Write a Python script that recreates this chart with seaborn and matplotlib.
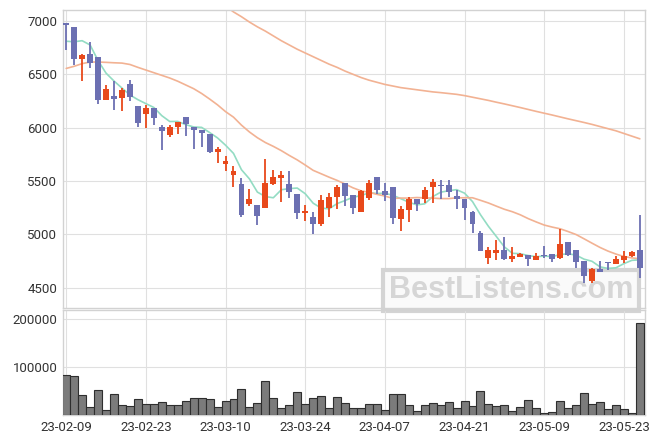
import matplotlib
matplotlib.use("Agg")
import matplotlib.pyplot as plt
import seaborn as sns
import numpy as np
import pandas as pd

# daily candles, 23-02-09 .. 23-05-25
dates = [
    "23-02-09", "23-02-10", "23-02-13", "23-02-14", "23-02-15", "23-02-16", "23-02-17",
    "23-02-20", "23-02-21", "23-02-22", "23-02-23", "23-02-24", "23-02-27", "23-02-28",
    "23-03-02", "23-03-03", "23-03-06", "23-03-07", "23-03-08", "23-03-09", "23-03-10",
    "23-03-13", "23-03-14", "23-03-15", "23-03-16", "23-03-17", "23-03-20", "23-03-21",
    "23-03-22", "23-03-23", "23-03-24", "23-03-27", "23-03-28", "23-03-29", "23-03-30",
    "23-03-31", "23-04-03", "23-04-04", "23-04-05", "23-04-06", "23-04-07", "23-04-10",
    "23-04-11", "23-04-12", "23-04-13", "23-04-14", "23-04-17", "23-04-18", "23-04-19",
    "23-04-20", "23-04-21", "23-04-24", "23-04-25", "23-04-26", "23-04-27", "23-04-28",
    "23-05-02", "23-05-03", "23-05-04", "23-05-08", "23-05-09", "23-05-10", "23-05-11",
    "23-05-12", "23-05-15", "23-05-16", "23-05-17", "23-05-18", "23-05-19", "23-05-22",
    "23-05-23", "23-05-24", "23-05-25",
]
opens = [
    6980, 6940, 6640, 6690, 6660, 6260, 6295, 6275, 6405, 6200,
    6125, 6180, 6010, 5930, 6005, 6100, 6010, 5980, 5940, 5775,
    5660, 5555, 5470, 5285, 5270, 5250, 5475, 5530, 5475, 5375,
    5200, 5165, 5095, 5250, 5345, 5480, 5365, 5210, 5340, 5540,
    5410, 5445, 5140, 5230, 5330, 5330, 5445, 5460, 5465, 5360,
    5330, 5205, 5015, 4780, 4820, 4855, 4765, 4790, 4805, 4760,
    4805, 4815, 4780, 4925, 4855, 4750, 4565, 4670, 4740, 4720,
    4760, 4800, 4855,
]
highs = [
    6980, 6940, 6695, 6800, 6660, 6395, 6435, 6375, 6450, 6200,
    6210, 6180, 6020, 6020, 6050, 6100, 6010, 5980, 5940, 5815,
    5735, 5640, 5525, 5420, 5270, 5705, 5600, 5595, 5595, 5375,
    5270, 5210, 5365, 5390, 5460, 5480, 5365, 5415, 5510, 5540,
    5485, 5445, 5260, 5345, 5330, 5440, 5515, 5505, 5505, 5415,
    5330, 5215, 5030, 4880, 4945, 4970, 4880, 4820, 4805, 4820,
    4885, 4815, 5045, 4925, 4855, 4750, 4680, 4745, 4740, 4795,
    4840, 4845, 5180,
]
lows = [
    6730, 6585, 6435, 6555, 6225, 6260, 6165, 6160, 6250, 6010,
    5995, 6020, 5790, 5910, 5940, 5925, 5800, 5820, 5760, 5665,
    5595, 5445, 5160, 5265, 5085, 5250, 5460, 5305, 5340, 5145,
    5125, 5000, 5075, 5165, 5240, 5265, 5185, 5210, 5325, 5375,
    5310, 5100, 5030, 5110, 5220, 5295, 5290, 5330, 5345, 5235,
    5135, 5010, 4840, 4720, 4755, 4760, 4735, 4785, 4700, 4760,
    4775, 4735, 4765, 4800, 4680, 4545, 4545, 4650, 4665, 4720,
    4730, 4790, 4590,
]
closes = [
    6960, 6640, 6680, 6610, 6260, 6365, 6270, 6350, 6285, 6040,
    6180, 6090, 5965, 6010, 6050, 6030, 5975, 5945, 5770, 5795,
    5690, 5595, 5180, 5335, 5175, 5480, 5540, 5555, 5400, 5200,
    5215, 5095, 5325, 5350, 5445, 5360, 5250, 5405, 5485, 5415,
    5370, 5155, 5240, 5330, 5285, 5415, 5490, 5450, 5400, 5335,
    5250, 5095, 4840, 4855, 4855, 4765, 4795, 4815, 4765, 4800,
    4795, 4770, 4910, 4805, 4735, 4610, 4670, 4650, 4730, 4765,
    4800, 4830, 4680,
]
volumes = [
    83300, 81200, 41700, 16000, 52100, 10400, 43700, 20800, 18000, 33300,
    22900, 22900, 27100, 20800, 20800, 29200, 34700, 34700, 33300, 16000,
    29200, 33300, 53500, 16000, 25000, 70800, 34700, 13900, 20800, 47200,
    22900, 34700, 39600, 13900, 36800, 24300, 13900, 13900, 22200, 22200,
    10400, 43700, 43700, 20100, 8300, 20100, 24300, 20100, 26400, 13900,
    28500, 18000, 49300, 22200, 18000, 20100, 8300, 16000, 30500, 13900,
    3500, 5500, 28500, 13900, 20100, 45100, 22200, 26400, 11800, 20100,
    11800, 3500, 191000,
]
# moving averages as drawn
ma5 = [
    6810, 6805, 6815, 6775, 6629, 6511, 6437, 6371, 6306, 6262,
    6225, 6189, 6112, 6057, 6058, 6028, 6006, 6002, 5954, 5903,
    5835, 5758, 5605, 5519, 5395, 5353, 5342, 5417, 5428, 5433,
    5380, 5291, 5245, 5238, 5287, 5316, 5347, 5362, 5389, 5382,
    5384, 5365, 5333, 5301, 5275, 5285, 5352, 5394, 5408, 5418,
    5385, 5306, 5183, 5074, 4978, 4881, 4821, 4817, 4800, 4789,
    4795, 4790, 4809, 4817, 4804, 4766, 4746, 4694, 4679, 4685,
    4724, 4755, 4760,
]
ma20 = [
    6555, 6575, 6600, 6615, 6615, 6612, 6608, 6605, 6592, 6565,
    6540, 6515, 6490, 6465, 6435, 6400, 6365, 6320, 6268, 6213,
    6150, 6098, 6023, 5959, 5905, 5860, 5824, 5784, 5739, 5697,
    5649, 5599, 5567, 5535, 5505, 5471, 5435, 5407, 5393, 5374,
    5358, 5336, 5339, 5339, 5344, 5341, 5339, 5334, 5334, 5341,
    5342, 5342, 5318, 5293, 5263, 5234, 5211, 5182, 5146, 5115,
    5086, 5067, 5051, 5025, 4997, 4957, 4916, 4876, 4842, 4814,
    4791, 4778, 4770,
]
ma_long_start = 20
ma_long = [
    7140, 7085, 7040, 6990, 6945, 6905, 6860, 6815, 6775, 6735,
    6700, 6665, 6630, 6595, 6565, 6530, 6500, 6470, 6445, 6425,
    6405, 6390, 6375, 6365, 6355, 6345, 6335, 6328, 6320, 6312,
    6300, 6285, 6270, 6255, 6238, 6222, 6205, 6188, 6170, 6152,
    6135, 6118, 6100, 6082, 6065, 6048, 6030, 6010, 5990, 5970,
    5945, 5920, 5895,
]
price_ticks = [4500, 5000, 5500, 6000, 6500, 7000]
volume_ticks = [100000, 200000]
label_step = 10

UP = "#e8491b"
DOWN = "#6c70b2"
MA5_C = "#93dcc3"
MA_C = "#f2b293"
GRID = "#e0e0e0"
EDGE = "#d2d2d2"

sns.set_theme(style="whitegrid")
plt.rcParams["font.family"] = ["Roboto", "DejaVu Sans"]

df = pd.DataFrame({"date": dates, "open": opens, "high": highs,
                   "low": lows, "close": closes, "volume": volumes})
df["idx"] = np.arange(len(df))
colors = np.where(df["close"] >= df["open"], UP, DOWN)

fig = plt.figure(figsize=(6.63, 4.44), dpi=100)
ax = fig.add_axes([63 / 663, 136 / 444, 582 / 663, 298 / 444])
axv = fig.add_axes([63 / 663, 29 / 444, 582 / 663, 105 / 444], sharex=ax)

# watermark sits behind the marks
ax.text(511 / 663, 1 - 290 / 444, "BestListens.com", transform=fig.transFigure,
        ha="center", va="center", fontsize=22, fontweight="bold", color="#d6d6d6",
        family="Liberation Sans", zorder=1, clip_on=False,
        bbox=dict(boxstyle="square,pad=0.18", fc="#fafafa", ec="#d4d4d4", lw=3))

# moving averages
sns.lineplot(x=df["idx"], y=ma5, ax=ax, color=MA5_C, linewidth=1.2, zorder=2)
sns.lineplot(x=df["idx"], y=ma20, ax=ax, color=MA_C, linewidth=1.2, zorder=2)
sns.lineplot(x=df["idx"][ma_long_start:], y=ma_long, ax=ax, color=MA_C, linewidth=1.2, zorder=2)

# candles
ax.vlines(df["idx"], df["low"], df["high"], color=colors, linewidth=1.3, zorder=3)
body_low = df[["open", "close"]].min(axis=1)
body_h = (df["close"] - df["open"]).abs().clip(lower=10)
ax.bar(df["idx"], body_h, bottom=body_low, width=0.74, color=colors, linewidth=0, zorder=4)

ax.set_ylim(4308, 7103)
ax.set_yticks(price_ticks)
ax.set_xlabel("")
ax.set_ylabel("")
ax.tick_params(labelbottom=False)

# volume
axv.bar(df["idx"], df["volume"], width=1.0, color="#7b7b7b", edgecolor="#2e2e2e",
        linewidth=0.8, zorder=3)
axv.set_ylim(0, 218700)
axv.set_yticks(volume_ticks)
axv.set_yticklabels([str(v) for v in volume_ticks])

axv.set_xlim(-0.4, 72.65)
axv.set_xticks(df["idx"][::label_step])
axv.set_xticklabels(df["date"][::label_step])
axv.set_xlabel("")

for a in (ax, axv):
    a.grid(True, color=GRID, linewidth=0.8)
    a.set_axisbelow(True)
    a.tick_params(length=0, labelsize=9.5, labelcolor="#333333", pad=4)
    for s in a.spines.values():
        s.set_color(EDGE)
        s.set_linewidth(1.0)
ax.set_facecolor("white")
axv.set_facecolor("none")

fig.savefig("out.png", dpi=100)
